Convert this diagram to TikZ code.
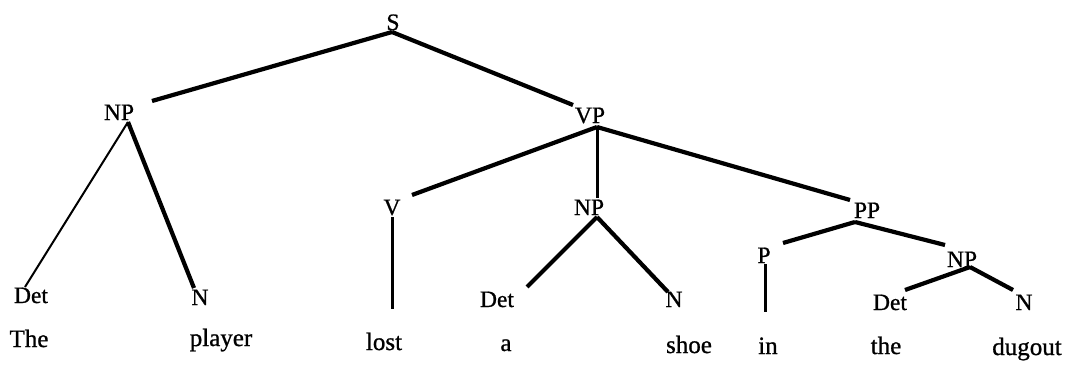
\documentclass[tikz,border=0pt]{standalone}
\usepackage{fontspec}
\setmainfont{Liberation Serif}
\newfontfamily\treefont[FakeBold=0.9]{Liberation Serif}
\begin{document}
\begin{tikzpicture}[x=1pt,y=-1pt,
  lbl/.style={inner sep=0pt,anchor=base,font=\treefont\fontsize{23.5}{25}\selectfont},
  wrd/.style={inner sep=0pt,anchor=base,font=\treefont\fontsize{25}{27}\selectfont},
  thick edge/.style={line width=4.2pt},
  mid edge/.style={line width=3pt},
  thin edge/.style={line width=2pt}]
\useasboundingbox[fill=white] (0,0) rectangle (1070,367);
% category labels
\node[lbl] (S)    at (393,30)  {S};
\node[lbl] (NPa)  at (119,120) {NP};
\node[lbl] (VP)   at (590,123) {VP};
\node[lbl] (V)    at (392,215) {V};
\node[lbl] (NPb)  at (589,215) {NP};
\node[lbl] (PP)   at (867,218) {PP};
\node[lbl] (P)    at (764,263) {P};
\node[lbl] (NPc)  at (962,267) {NP};
\node[lbl] (Deta) at (31,303)  {Det};
\node[lbl] (Na)   at (200,305) {N};
\node[lbl] (Detb) at (497,307) {Det};
\node[lbl] (Nb)   at (674,307) {N};
\node[lbl] (Detc) at (890,310) {Det};
\node[lbl] (Nc)   at (1024,310){N};
% words
\node[wrd] (w1) at (29,347)  {The};
\node[wrd] (w2) at (221,346) {player};
\node[wrd] (w3) at (384,350) {lost};
\node[wrd] (w4) at (506,351) {a};
\node[wrd] (w5) at (689,353) {shoe};
\node[wrd] (w6) at (768,354) {in};
\node[wrd] (w7) at (886,354) {the};
\node[wrd] (w8) at (1027,355){dugout};
% branch end points
\coordinate (S-b)    at (392,32);
\coordinate (NPa-t)  at (152,101);
\coordinate (VP-t)   at (573,105);
\coordinate (NPa-b)  at (128,122);
\coordinate (Deta-t) at (25,287);
\coordinate (Na-t)   at (194,288);
\coordinate (VP-b)   at (597,127);
\coordinate (V-t)    at (412,195);
\coordinate (NPb-t)  at (597,198);
\coordinate (PP-t)   at (850,200);
\coordinate (V-b)    at (392,217);
\coordinate (w3-t)   at (392,309);
\coordinate (NPb-b)  at (597,217);
\coordinate (Detb-t) at (527,287);
\coordinate (Nb-t)   at (668,292);
\coordinate (PP-b)   at (855,222);
\coordinate (P-t)    at (783,243);
\coordinate (NPc-t)  at (945,245);
\coordinate (P-b)    at (765,264);
\coordinate (w6-t)   at (765,312);
\coordinate (NPc-b)  at (970,267);
\coordinate (Detc-t) at (905,290);
\coordinate (Nc-t)   at (1013,290);
% branches
\draw[thick edge] (S-b) -- (NPa-t);
\draw[thick edge] (S-b) -- (VP-t);
\draw[thin edge]  (NPa-b) -- (Deta-t);
\draw[thick edge] (NPa-b) -- (Na-t);
\draw[thick edge] (VP-b) -- (V-t);
\draw[mid edge]   (VP-b) -- (NPb-t);
\draw[thick edge] (VP-b) -- (PP-t);
\draw[mid edge]   (V-b) -- (w3-t);
\draw[thick edge] (NPb-b) -- (Detb-t);
\draw[thick edge] (NPb-b) -- (Nb-t);
\draw[thick edge] (PP-b) -- (P-t);
\draw[thick edge] (PP-b) -- (NPc-t);
\draw[mid edge]   (P-b) -- (w6-t);
\draw[thick edge] (NPc-b) -- (Detc-t);
\draw[thick edge] (NPc-b) -- (Nc-t);
\end{tikzpicture}
\end{document}
